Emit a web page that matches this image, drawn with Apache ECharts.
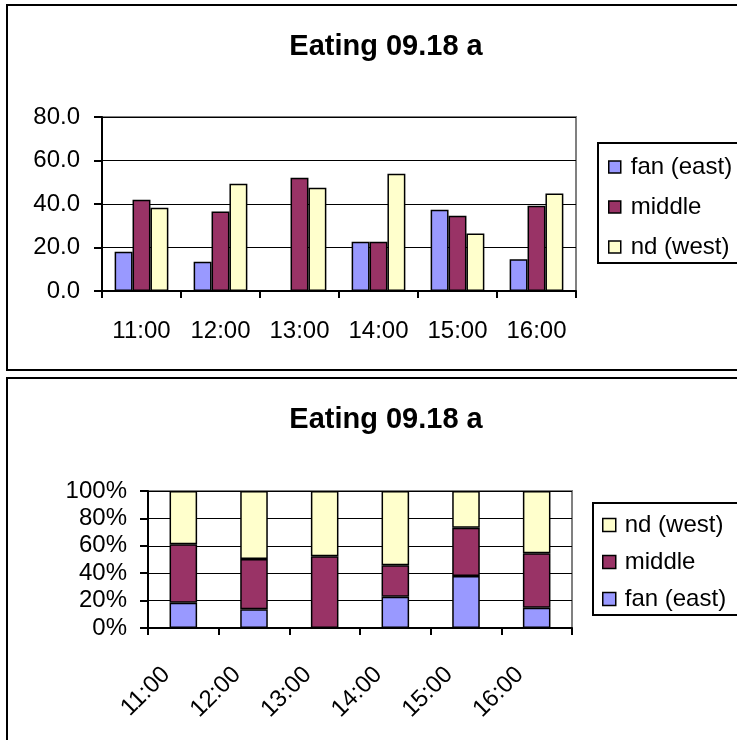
<!DOCTYPE html>
<html>
<head>
<meta charset="utf-8">
<script src="https://cdn.jsdelivr.net/npm/echarts@6/dist/echarts.min.js"></script>
<style>
  html, body { margin: 0; padding: 0; background: #fff; }
  #chart { width: 737px; height: 740px; }
</style>
</head>
<body>
<div id="chart"></div>
<script>
// Hourly eating counts by zone
const hours = ['11:00', '12:00', '13:00', '14:00', '15:00', '16:00'];
const fanEast = [18.1, 13.5, 0, 22.7, 37.4, 14.6];
const middle = [42.0, 36.5, 52.1, 22.7, 34.6, 39.2];
const ndWest = [38.3, 49.3, 47.5, 53.9, 26.4, 44.8];
const titleText = 'Eating 09.18 a';
const seriesNames = ['fan (east)', 'middle', 'nd (west)'];

const COLORS = { fan: '#9999FF', middle: '#993366', west: '#FFFFCC' };
const FONT = "'Liberation Sans', Arial, sans-serif";

// share of each zone within an hour, for the 100% stacked view
const totals = hours.map((_, i) => fanEast[i] + middle[i] + ndWest[i]);
const share = arr => arr.map((v, i) => totals[i] ? v / totals[i] * 100 : 0);

const labelStyle = { color: '#000', fontFamily: FONT, fontSize: 24 };
const barBorder = { borderColor: '#000', borderWidth: 1.5 };
const titleStyle = { fontFamily: FONT, fontSize: 29, fontWeight: 'bold', color: '#000' };

const chart = echarts.init(document.getElementById('chart'), null, { renderer: 'canvas' });

chart.setOption({
  backgroundColor: '#fff',
  animation: false,
  graphic: [
    { type: 'rect', shape: { x: 7, y: 5, width: 740, height: 365 }, style: { fill: 'none', stroke: '#000', lineWidth: 2 }, z: 0 },
    { type: 'rect', shape: { x: 7, y: 378, width: 740, height: 380 }, style: { fill: 'none', stroke: '#000', lineWidth: 2 }, z: 0 }
  ],
  title: [
    { text: titleText, left: 381, top: 42, textAlign: 'center', textVerticalAlign: 'middle', textStyle: titleStyle },
    { text: titleText, left: 381, top: 415, textAlign: 'center', textVerticalAlign: 'middle', textStyle: titleStyle }
  ],
  legend: [
    {
      orient: 'vertical', left: 598, top: 143,
      data: seriesNames.slice(),
      padding: [11, 30, 3, 10], itemGap: 14, itemWidth: 12, itemHeight: 12,
      icon: 'rect', borderColor: '#000', borderWidth: 2,
      itemStyle: { borderColor: '#000', borderWidth: 1.5 },
      textStyle: { fontFamily: FONT, fontSize: 24, color: '#000', lineHeight: 26, padding: [0, 0, 0, 5] },
      selectedMode: false
    },
    {
      orient: 'vertical', left: 593, top: 503,
      data: [seriesNames[2] + ' #2', seriesNames[1] + ' #2', seriesNames[0] + ' #2'],
      padding: [9, 30, 3, 9], itemGap: 11, itemWidth: 13, itemHeight: 13,
      icon: 'rect', borderColor: '#000', borderWidth: 2,
      itemStyle: { borderColor: '#000', borderWidth: 1.5 },
      textStyle: { fontFamily: FONT, fontSize: 24, color: '#000', lineHeight: 26, padding: [0, 0, 0, 4] },
      selectedMode: false,
      formatter: n => n.replace(/ #\d$/, '')
    }
  ],
  grid: [
    { left: 102, top: 117, width: 474, height: 174, show: true, borderColor: '#808080', borderWidth: 2, containLabel: false },
    { left: 148, top: 491, width: 424, height: 137, show: true, borderColor: '#808080', borderWidth: 2, containLabel: false }
  ],
  xAxis: [
    {
      type: 'category', gridIndex: 0, data: hours,
      axisLine: { lineStyle: { color: '#000', width: 2 } },
      axisTick: { show: true, length: 7, lineStyle: { color: '#000', width: 2 } },
      axisLabel: Object.assign({ margin: 28, interval: 0 }, labelStyle),
      splitLine: { show: false }
    },
    {
      type: 'category', gridIndex: 1, data: hours,
      axisLine: { lineStyle: { color: '#000', width: 2 } },
      axisTick: { show: true, length: 7, lineStyle: { color: '#000', width: 2 } },
      axisLabel: Object.assign({ margin: 26, interval: 0, rotate: 45, align: 'right', verticalAlign: 'middle', padding: [0, 24, 0, 0] }, labelStyle),
      splitLine: { show: false }
    }
  ],
  yAxis: [
    {
      type: 'value', gridIndex: 0, min: 0, max: 80, interval: 20,
      axisLine: { show: true, lineStyle: { color: '#000', width: 2 } },
      axisTick: { show: true, length: 8, lineStyle: { color: '#000', width: 2 } },
      axisLabel: Object.assign({ margin: 22, formatter: v => v.toFixed(1) }, labelStyle),
      splitLine: { show: true, lineStyle: { color: '#000', width: 1 } }
    },
    {
      type: 'value', gridIndex: 1, min: 0, max: 100, interval: 20,
      axisLine: { show: true, lineStyle: { color: '#000', width: 2 } },
      axisTick: { show: true, length: 8, lineStyle: { color: '#000', width: 2 } },
      axisLabel: Object.assign({ margin: 21, formatter: '{value}%' }, labelStyle),
      splitLine: { show: true, lineStyle: { color: '#000', width: 1 } }
    }
  ],
  series: [
    { name: seriesNames[0], type: 'bar', xAxisIndex: 0, yAxisIndex: 0, data: fanEast,
      barGap: '0%', barCategoryGap: '32%', itemStyle: Object.assign({ color: COLORS.fan }, barBorder) },
    { name: seriesNames[1], type: 'bar', xAxisIndex: 0, yAxisIndex: 0, data: middle,
      barGap: '0%', barCategoryGap: '32%', itemStyle: Object.assign({ color: COLORS.middle }, barBorder) },
    { name: seriesNames[2], type: 'bar', xAxisIndex: 0, yAxisIndex: 0, data: ndWest,
      barGap: '0%', barCategoryGap: '32%', itemStyle: Object.assign({ color: COLORS.west }, barBorder) },

    { name: seriesNames[0] + ' #2', type: 'bar', xAxisIndex: 1, yAxisIndex: 1, stack: 'pct', data: share(fanEast),
      barWidth: '39%', itemStyle: Object.assign({ color: COLORS.fan }, barBorder) },
    { name: seriesNames[1] + ' #2', type: 'bar', xAxisIndex: 1, yAxisIndex: 1, stack: 'pct', data: share(middle),
      barWidth: '39%', itemStyle: Object.assign({ color: COLORS.middle }, barBorder) },
    { name: seriesNames[2] + ' #2', type: 'bar', xAxisIndex: 1, yAxisIndex: 1, stack: 'pct', data: share(ndWest),
      barWidth: '39%', itemStyle: Object.assign({ color: COLORS.west }, barBorder) }
  ]
});
</script>
</body>
</html>
